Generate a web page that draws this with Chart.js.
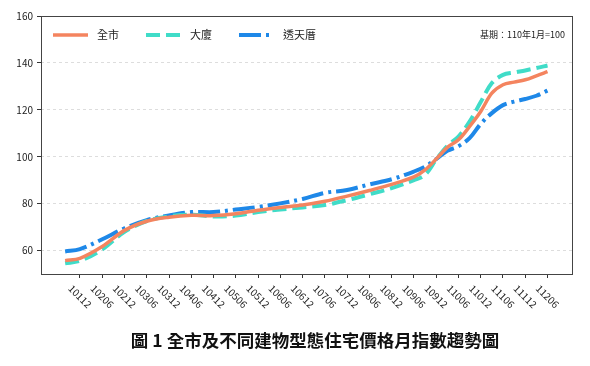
<!DOCTYPE html>
<html>
<head>
<meta charset="utf-8">
<script src="https://cdn.jsdelivr.net/npm/chart.js@4/dist/chart.umd.min.js"></script>
<style>
  html, body { margin: 0; padding: 0; background: #fff; }
</style>
</head>
<body>
<canvas id="priceChart" width="590" height="366"></canvas>
<script>
// 民國年月 (YYYMM)
const periods = [
    "10108", "10112", "10206", "10212", "10306", "10312", "10406", "10412",
    "10506", "10512", "10606", "10612", "10706", "10712", "10806", "10812",
    "10906", "10909", "10912", "11003", "11006", "11009", "11012", "11103",
    "11106", "11109", "11112", "11203", "11206"
];

const cityIndex = [
    55.7, 56.7, 61.7, 68.6, 72.5, 74.2, 75.0, 74.9,
    75.7, 77.2, 78.4, 79.4, 81.0, 83.2, 85.6, 88.2,
    91.4, 94.4, 99.0, 104.0, 107.2, 112.9, 119.3, 127.1,
    130.7, 131.8, 132.8, 134.5, 136.3
];

const buildingIndex = [
    54.6, 55.6, 60.5, 68.0, 72.6, 74.6, 75.3, 74.5,
    74.9, 76.4, 77.5, 78.4, 79.4, 81.5, 84.0, 86.6,
    90.0, 92.3, 98.8, 104.6, 108.6, 115.0, 123.3, 131.4,
    134.9, 135.9, 136.8, 137.8, 138.9
];

const houseIndex = [
    59.6, 60.6, 64.8, 69.5, 73.0, 75.0, 76.4, 76.4,
    77.5, 78.6, 80.1, 82.0, 84.6, 85.8, 88.2, 90.4,
    93.7, 95.8, 99.0, 102.5, 104.5, 107.9, 114.0, 118.6,
    122.0, 123.5, 124.6, 126.0, 128.2
];

const tickLabels = [
    "10112", "10206", "10212", "10306", "10312", "10406", "10412", "10506",
    "10512", "10606", "10612", "10706", "10712", "10806", "10812", "10906",
    "10912", "11006", "11012", "11106", "11112", "11206"
];

const yTicks = [60, 80, 100, 120, 140, 160];

const seriesNames = ["全市", "大廈", "透天厝"];
const baseNote = "基期：110年1月=100";
const titleText = "圖 1 全市及不同建物型態住宅價格月指數趨勢圖";

const FONT = '"Noto Sans CJK TC", "Noto Sans", sans-serif';

// months counted from 101年12月
function toMonth(p) {
    const y = parseInt(p.slice(0, 3), 10);
    const m = parseInt(p.slice(3), 10);
    return (y - 101) * 12 + m - 12;
}

function points(values) {
    return periods.map((p, i) => ({ x: toMonth(p), y: values[i] }));
}

// frame, rotated month labels, legend, base note and caption
const extras = {
    id: "extras",
    afterDraw(chart) {
        const ctx = chart.ctx;
        const area = chart.chartArea;
        const xs = chart.scales.x;

        ctx.save();

        ctx.strokeStyle = "#444";
        ctx.lineWidth = 1;
        ctx.strokeRect(Math.round(area.left) + 0.5, Math.round(area.top) + 0.5,
            Math.round(area.right - area.left), Math.round(area.bottom - area.top));

        ctx.font = "10px " + FONT;
        ctx.fillStyle = "#222";
        ctx.textAlign = "center";
        ctx.textBaseline = "middle";
        xs.ticks.forEach((t, i) => {
            const label = tickLabels[i];
            const x = xs.getPixelForValue(t.value);
            const w = ctx.measureText(label).width;
            const half = (w + 10) * Math.SQRT1_2 / 2;
            ctx.save();
            ctx.translate(x, area.bottom + 9 + half);
            ctx.rotate(Math.PI / 4);
            ctx.fillText(label, 0, 0);
            ctx.restore();
        });

        // legend
        const ly = area.top + 19;
        let lx = area.left + 12;
        ctx.font = "11px " + FONT;
        ctx.textAlign = "left";
        chart.data.datasets.forEach(ds => {
            ctx.save();
            ctx.strokeStyle = ds.borderColor;
            ctx.lineWidth = ds.borderWidth;
            ctx.setLineDash(ds.borderDash || []);
            ctx.beginPath();
            ctx.moveTo(lx, ly);
            ctx.lineTo(lx + 35, ly);
            ctx.stroke();
            ctx.restore();
            ctx.fillStyle = "#222";
            ctx.fillText(ds.label, lx + 44, ly);
            lx += 44 + ctx.measureText(ds.label).width + 27;
        });

        ctx.font = "9px " + FONT;
        ctx.textAlign = "right";
        ctx.fillText(baseNote, area.right - 7, ly);

        // caption under the figure
        ctx.font = "bold 17.5px " + FONT;
        ctx.fillStyle = "#111";
        ctx.textAlign = "center";
        ctx.fillText(titleText, 315, 340);

        ctx.restore();
    }
};

const ctx = document.getElementById("priceChart").getContext("2d");

new Chart(ctx, {
    type: "line",
    data: {
        datasets: [
            {
                label: seriesNames[0],
                data: points(cityIndex),
                borderColor: "#F4845F",
                borderWidth: 3.5,
                borderDash: []
            },
            {
                label: seriesNames[1],
                data: points(buildingIndex),
                borderColor: "#40DCC8",
                borderWidth: 4,
                borderDash: [14, 6]
            },
            {
                label: seriesNames[2],
                data: points(houseIndex),
                borderColor: "#1E88E8",
                borderWidth: 4,
                borderDash: [22, 5, 3, 5]
            }
        ]
    },
    options: {
        responsive: false,
        animation: false,
        layout: {
            padding: { top: 16, right: 18, left: 0, bottom: 0 }
        },
        elements: {
            point: { radius: 0 },
            line: { tension: 0.35, borderCapStyle: "butt", fill: false }
        },
        scales: {
            x: {
                type: "linear",
                min: -10.5,
                max: 132.6,
                afterBuildTicks: scale => {
                    scale.ticks = tickLabels.map((_, i) => ({ value: i * 6 }));
                },
                afterFit: scale => {
                    scale.height = 92;
                },
                ticks: { display: false },
                grid: {
                    drawOnChartArea: false,
                    drawTicks: true,
                    tickLength: 4,
                    tickColor: "#333"
                },
                border: { display: false }
            },
            y: {
                min: 50,
                max: 160,
                afterBuildTicks: scale => {
                    scale.ticks = yTicks.map(v => ({ value: v }));
                },
                afterFit: scale => {
                    scale.width = 41;
                },
                ticks: {
                    padding: 4,
                    color: "#222",
                    font: { family: FONT, size: 10 }
                },
                grid: {
                    color: c => (c.tick && c.tick.value === 160 ? "rgba(0,0,0,0)" : "#dddddd"),
                    lineWidth: 1,
                    drawTicks: true,
                    tickLength: 4,
                    tickColor: "#333",
                    tickBorderDash: []
                },
                border: { display: false, dash: [3, 3] }
            }
        },
        plugins: {
            legend: { display: false },
            tooltip: { enabled: false }
        }
    },
    plugins: [extras]
});
</script>
</body>
</html>
